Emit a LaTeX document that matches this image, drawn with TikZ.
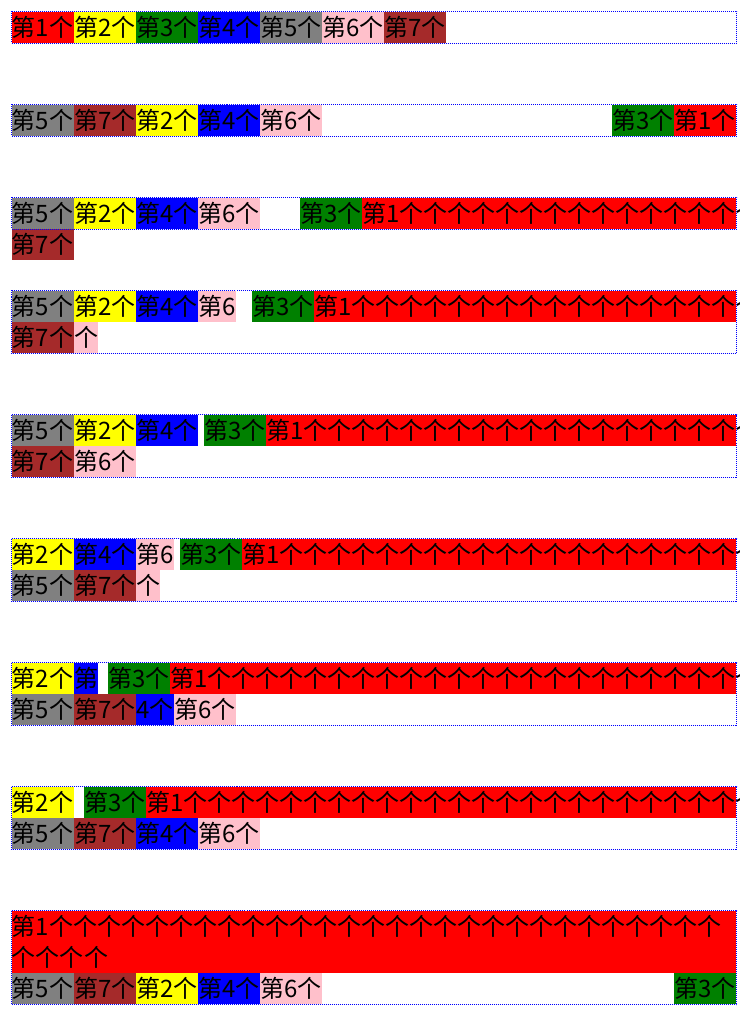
\documentclass[tikz,border=0pt]{standalone}
\usepackage{fontspec}
\newfontfamily\cjkfont{Noto Sans CJK SC}
\definecolor{itemred}{RGB}{255,0,0}
\definecolor{itemyellow}{RGB}{255,255,0}
\definecolor{itemgreen}{RGB}{0,128,0}
\definecolor{itemblue}{RGB}{0,0,255}
\definecolor{itemgray}{RGB}{128,128,128}
\definecolor{itempink}{RGB}{255,192,203}
\definecolor{itembrown}{RGB}{165,42,42}
\tikzset{
  flexrow/.style={draw=blue,line width=0.75pt,dash pattern=on 0.75pt off 0.75pt},
  flexitem/.style={anchor=north west,inner sep=0pt,outer sep=0pt,
        text width=#1*0.75pt,minimum height=23.25pt,align=left,
        font=\cjkfont\fontsize{18}{23.25}\selectfont},
}
\begin{document}
\begin{tikzpicture}[x=0.75pt,y=-0.75pt]
  \useasboundingbox (0,0) rectangle (739,1030);
  \clip (0,0) rectangle (739,1030);

  % row 1
  \foreach \n/\c [count=\k from 0] in {1/itemred,2/itemyellow,3/itemgreen,4/itemblue,5/itemgray,6/itempink,7/itembrown}
    \node[flexitem=62,fill=\c] (r1i\n) at (12+62*\k,12) {第{\n}个};
  \draw[flexrow] (11.5,11.5) rectangle (736.5,43.5);

  % row 2
  \node[flexitem=62,fill=itemgray] (r2i5) at (12,105) {第5个};
  \node[flexitem=62,fill=itembrown] (r2i7) at (74,105) {第7个};
  \node[flexitem=62,fill=itemyellow] (r2i2) at (136,105) {第2个};
  \node[flexitem=62,fill=itemblue] (r2i4) at (198,105) {第4个};
  \node[flexitem=62,fill=itempink] (r2i6) at (260,105) {第6个};
  \node[flexitem=62,fill=itemgreen] (r2i3) at (612,105) {第3个};
  \node[flexitem=62,fill=itemred] (r2i1) at (674,105) {第1个};
  \draw[flexrow] (11.5,104.5) rectangle (736.5,136.5);

  % row 3
  \node[flexitem=62,fill=itemgray] (r3i5) at (12,198) {第5个};
  \node[flexitem=62,fill=itemyellow] (r3i2) at (74,198) {第2个};
  \node[flexitem=62,fill=itemblue] (r3i4) at (136,198) {第4个};
  \node[flexitem=62,fill=itempink] (r3i6) at (198,198) {第6个};
  \node[flexitem=62,fill=itemgreen] (r3i3) at (300,198) {第3个};
  \node[flexitem=374,fill=itemred] (r3i1) at (362,198) {第1个个个个个个个个个个个个个个个个个个个个个个个个个个个个个个个};
  \node[flexitem=62,fill=itembrown] (r3i7) at (12,229) {第7个};
  \draw[flexrow] (11.5,197.5) rectangle (736.5,229.5);

  % row 4
  \node[flexitem=62,fill=itemgray] (r4i5) at (12,291) {第5个};
  \node[flexitem=62,fill=itemyellow] (r4i2) at (74,291) {第2个};
  \node[flexitem=62,fill=itemblue] (r4i4) at (136,291) {第4个};
  \node[flexitem=38,fill=itempink] (r4i6a) at (198,291) {第6};
  \node[flexitem=62,fill=itemgreen] (r4i3) at (252,291) {第3个};
  \node[flexitem=422,fill=itemred] (r4i1) at (314,291) {第1个个个个个个个个个个个个个个个个个个个个个个个个个个个个个个个};
  \node[flexitem=62,fill=itembrown] (r4i7) at (12,322) {第7个};
  \node[flexitem=24,fill=itempink] (r4i6b) at (74,322) {个};
  \draw[flexrow] (11.5,290.5) rectangle (736.5,353.5);

  % row 5
  \node[flexitem=62,fill=itemgray] (r5i5) at (12,415) {第5个};
  \node[flexitem=62,fill=itemyellow] (r5i2) at (74,415) {第2个};
  \node[flexitem=62,fill=itemblue] (r5i4) at (136,415) {第4个};
  \node[flexitem=62,fill=itemgreen] (r5i3) at (204,415) {第3个};
  \node[flexitem=470,fill=itemred] (r5i1) at (266,415) {第1个个个个个个个个个个个个个个个个个个个个个个个个个个个个个个个};
  \node[flexitem=62,fill=itembrown] (r5i7) at (12,446) {第7个};
  \node[flexitem=62,fill=itempink] (r5i6) at (74,446) {第6个};
  \draw[flexrow] (11.5,414.5) rectangle (736.5,477.5);

  % row 6
  \node[flexitem=62,fill=itemyellow] (r6i2) at (12,539) {第2个};
  \node[flexitem=62,fill=itemblue] (r6i4) at (74,539) {第4个};
  \node[flexitem=38,fill=itempink] (r6i6a) at (136,539) {第6};
  \node[flexitem=62,fill=itemgreen] (r6i3) at (180,539) {第3个};
  \node[flexitem=494,fill=itemred] (r6i1) at (242,539) {第1个个个个个个个个个个个个个个个个个个个个个个个个个个个个个个个};
  \node[flexitem=62,fill=itemgray] (r6i5) at (12,570) {第5个};
  \node[flexitem=62,fill=itembrown] (r6i7) at (74,570) {第7个};
  \node[flexitem=24,fill=itempink] (r6i6b) at (136,570) {个};
  \draw[flexrow] (11.5,538.5) rectangle (736.5,601.5);

  % row 7
  \node[flexitem=62,fill=itemyellow] (r7i2) at (12,663) {第2个};
  \node[flexitem=24,fill=itemblue] (r7i4a) at (74,663) {第};
  \node[flexitem=62,fill=itemgreen] (r7i3) at (108,663) {第3个};
  \node[flexitem=566,fill=itemred] (r7i1) at (170,663) {第1个个个个个个个个个个个个个个个个个个个个个个个个个个个个个个个};
  \node[flexitem=62,fill=itemgray] (r7i5) at (12,694) {第5个};
  \node[flexitem=62,fill=itembrown] (r7i7) at (74,694) {第7个};
  \node[flexitem=38,fill=itemblue] (r7i4b) at (136,694) {4个};
  \node[flexitem=62,fill=itempink] (r7i6) at (174,694) {第6个};
  \draw[flexrow] (11.5,662.5) rectangle (736.5,725.5);

  % row 8
  \node[flexitem=62,fill=itemyellow] (r8i2) at (12,787) {第2个};
  \node[flexitem=62,fill=itemgreen] (r8i3) at (84,787) {第3个};
  \node[flexitem=590,fill=itemred] (r8i1) at (146,787) {第1个个个个个个个个个个个个个个个个个个个个个个个个个个个个个个个};
  \node[flexitem=62,fill=itemgray] (r8i5) at (12,818) {第5个};
  \node[flexitem=62,fill=itembrown] (r8i7) at (74,818) {第7个};
  \node[flexitem=62,fill=itemblue] (r8i4) at (136,818) {第4个};
  \node[flexitem=62,fill=itempink] (r8i6) at (198,818) {第6个};
  \draw[flexrow] (11.5,786.5) rectangle (736.5,849.5);

  % row 9
  \node[flexitem=724,fill=itemred,minimum height=46.5pt] (r9i1) at (12,911)
    {第1个个个个个个个个个个个个个个个个个个个个个个个个个个个个\\个个个个};
  \node[flexitem=62,fill=itemgray] (r9i5) at (12,973) {第5个};
  \node[flexitem=62,fill=itembrown] (r9i7) at (74,973) {第7个};
  \node[flexitem=62,fill=itemyellow] (r9i2) at (136,973) {第2个};
  \node[flexitem=62,fill=itemblue] (r9i4) at (198,973) {第4个};
  \node[flexitem=62,fill=itempink] (r9i6) at (260,973) {第6个};
  \node[flexitem=62,fill=itemgreen] (r9i3) at (674,973) {第3个};
  \draw[flexrow] (11.5,910.5) rectangle (736.5,1004.5);
\end{tikzpicture}
\end{document}
